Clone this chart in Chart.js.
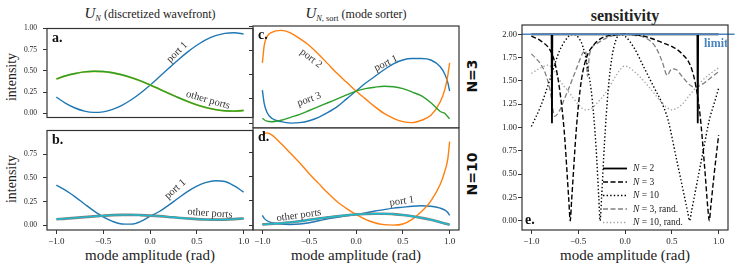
<!DOCTYPE html>
<html>
<head>
<meta charset="utf-8">
<script src="https://cdn.jsdelivr.net/npm/chart.js@4.4.1/dist/chart.umd.min.js"></script>
<style>
  body { margin: 0; background: #fff; width: 735px; height: 268px; overflow: hidden; position: relative;
         font-family: 'Liberation Serif', serif; color: #222; }
  canvas { position: absolute; }
  .t { position: absolute; white-space: nowrap; transform: translate(-50%, -50%); }
  .rot { transform: translate(-50%, -50%) rotate(-90deg); }
  .side { font-family: 'DejaVu Sans', sans-serif; font-weight: bold; font-size: 14px; color: #111; }
  sub { font-size: 70%; vertical-align: -3px; }
</style>
</head>
<body>
<div class="t" style="left:150px; top:14px; font-size:12px;"><i style="font-size:15px">U</i><sub><i>N</i></sub> (discretized wavefront)</div>
<div class="t" style="left:356px; top:14px; font-size:12px;"><i style="font-size:15px">U</i><sub><i>N</i>, sort</sub> (mode sorter)</div>
<div class="t" style="left:625px; top:16px; font-size:16px; font-weight:bold;">sensitivity</div>
<div class="t rot" style="left:12px; top:77px; font-size:14px;">intensity</div>
<div class="t rot" style="left:12px; top:179px; font-size:14px;">intensity</div>
<div class="t" style="left:150px; top:255px; font-size:15px;">mode amplitude (rad)</div>
<div class="t" style="left:356px; top:255px; font-size:15px;">mode amplitude (rad)</div>
<div class="t" style="left:625px; top:255px; font-size:15px;">mode amplitude (rad)</div>
<div class="t rot side" style="left:472px; top:76px;">N=3</div>
<div class="t rot side" style="left:472px; top:174px;">N=10</div>

<canvas id="pa"></canvas>
<canvas id="pb"></canvas>
<canvas id="pc"></canvas>
<canvas id="pd"></canvas>
<canvas id="pe"></canvas>

<script>
// --- Data ---
const xTicks = [-1, -0.5, 0, 0.5, 1];
const yTicksTop = [0, 0.25, 0.5, 0.75, 1.0];
const yTicksLow = [0, 0.25, 0.5, 0.75];
const yTicksSens = [0, 0.25, 0.5, 0.75, 1.0, 1.25, 1.5, 1.75, 2.0];

// panels a, b: discretized wavefront
const xAB = [-1, -0.9, -0.8, -0.7, -0.6, -0.5, -0.4, -0.3, -0.2, -0.1, 0, 0.1, 0.2, 0.3, 0.4, 0.5, 0.6, 0.7, 0.8, 0.9, 1];
const aPort1 = [0.19, 0.117, 0.062, 0.025, 0.01, 0.017, 0.045, 0.093, 0.159, 0.239, 0.331, 0.43, 0.53, 0.629, 0.721, 0.802, 0.868, 0.915, 0.943, 0.95, 0.934];
const aOther = [0.405, 0.442, 0.469, 0.488, 0.495, 0.492, 0.478, 0.454, 0.421, 0.381, 0.335, 0.285, 0.235, 0.186, 0.14, 0.099, 0.066, 0.043, 0.029, 0.025, 0.033];
const bPort1 = [0.423, 0.368, 0.3, 0.225, 0.152, 0.088, 0.041, 0.014, 0.012, 0.04, 0.095, 0.145, 0.212, 0.285, 0.355, 0.413, 0.453, 0.47, 0.462, 0.415, 0.35];
const bOther = [0.064, 0.07, 0.078, 0.086, 0.094, 0.101, 0.107, 0.11, 0.11, 0.107, 0.102, 0.096, 0.088, 0.079, 0.072, 0.065, 0.061, 0.059, 0.06, 0.065, 0.072];

// panels c, d: mode sorter
const xCD = [-1, -0.98, -0.95, -0.9, -0.8, -0.7, -0.6, -0.5, -0.4, -0.3, -0.2, -0.1, 0, 0.1, 0.2, 0.3, 0.4, 0.5, 0.6, 0.7, 0.8, 0.9, 0.95, 0.98, 1];
const cPort1 = [0.34, 0.2, 0.11, 0.05, 0.015, 0.0, 0.005, 0.025, 0.06, 0.11, 0.17, 0.25, 0.33, 0.41, 0.48, 0.55, 0.61, 0.65, 0.665, 0.665, 0.65, 0.58, 0.5, 0.42, 0.33];
const cPort2 = [0.62, 0.8, 0.89, 0.935, 0.955, 0.93, 0.87, 0.8, 0.71, 0.61, 0.51, 0.42, 0.33, 0.25, 0.17, 0.1, 0.05, 0.015, 0.005, 0.03, 0.08, 0.22, 0.35, 0.49, 0.62];
const cPort3 = [0.05, 0.035, 0.02, 0.015, 0.03, 0.06, 0.09, 0.13, 0.17, 0.21, 0.25, 0.29, 0.33, 0.355, 0.37, 0.38, 0.375, 0.355, 0.32, 0.28, 0.21, 0.12, 0.1, 0.065, 0.045];
const dPort1 = [0.1, 0.07, 0.045, 0.025, 0.01, 0.007, 0.012, 0.025, 0.045, 0.065, 0.08, 0.095, 0.11, 0.125, 0.145, 0.16, 0.175, 0.185, 0.195, 0.2, 0.195, 0.175, 0.155, 0.13, 0.1];
const dPort2 = [0.92, 0.94, 0.95, 0.93, 0.84, 0.74, 0.64, 0.53, 0.43, 0.33, 0.24, 0.17, 0.11, 0.06, 0.025, 0.005, 0.0, 0.012, 0.06, 0.14, 0.25, 0.42, 0.56, 0.68, 0.86];
const dOther = [0.008, 0.008, 0.01, 0.013, 0.02, 0.03, 0.04, 0.055, 0.068, 0.08, 0.092, 0.102, 0.11, 0.115, 0.118, 0.118, 0.113, 0.105, 0.092, 0.075, 0.055, 0.03, 0.018, 0.01, 0.005];

// panel e: sensitivity
const xLimit = [-1.1, 1.17];
const yLimit = [2, 2];
const xN2 = [-1, -0.784, -0.78, -0.776, 0.773, 0.777, 0.781, 1];
const yN2 = [2, 2, 1.045, 2, 2, 1.045, 2, 2];
const xN3 = [-1, -0.9, -0.8, -0.75, -0.7, -0.65, -0.6, -0.585, -0.57, -0.52, -0.48, -0.45, -0.4, -0.34, -0.25, -0.1, 0, 0.1, 0.2, 0.3, 0.4, 0.5, 0.6, 0.7, 0.75, 0.8, 0.85, 0.885, 0.9, 0.915, 0.95, 1.0];
const yN3 = [1.98, 1.93, 1.83, 1.7, 1.42, 0.97, 0.22, 0.0, 0.22, 0.98, 1.4, 1.6, 1.78, 1.88, 1.96, 1.995, 2.0, 1.995, 1.98, 1.95, 1.91, 1.87, 1.8, 1.66, 1.48, 1.15, 0.58, 0.13, 0.0, 0.14, 0.48, 0.92];
const xN10 = [-1, -0.9, -0.8, -0.7, -0.6, -0.55, -0.5, -0.45, -0.4, -0.35, -0.31, -0.28, -0.266, -0.25, -0.22, -0.18, -0.14, -0.1, -0.05, 0, 0.1, 0.2, 0.3, 0.4, 0.46, 0.55, 0.62, 0.67, 0.69, 0.71, 0.76, 0.83, 0.9, 0.95, 1.0];
const yN10 = [1.01, 1.23, 1.52, 1.82, 1.98, 2.0, 1.97, 1.87, 1.65, 1.3, 0.8, 0.25, 0.0, 0.25, 0.82, 1.4, 1.75, 1.93, 2.0, 1.98, 1.85, 1.65, 1.45, 1.25, 1.08, 0.66, 0.33, 0.09, 0.0, 0.1, 0.36, 0.72, 1.08, 1.25, 1.42];
const xN3r = [-1, -0.95, -0.9, -0.85, -0.8, -0.75, -0.7, -0.65, -0.6, -0.55, -0.5, -0.45, -0.42, -0.4, -0.38, -0.3, -0.2, -0.1, 0, 0.1, 0.2, 0.3, 0.35, 0.4, 0.45, 0.5, 0.55, 0.6, 0.65, 0.7, 0.75, 0.8, 0.85, 0.9, 0.95, 1.0];
const yN3r = [1.79, 1.74, 1.68, 1.58, 1.4, 1.12, 1.18, 1.3, 1.42, 1.55, 1.68, 1.8, 1.82, 1.55, 1.78, 1.9, 1.96, 1.99, 2.0, 1.99, 1.97, 1.9, 1.82, 1.7, 1.56, 1.63, 1.62, 1.56, 1.5, 1.45, 1.43, 1.45, 1.48, 1.52, 1.56, 1.6];
const xN10r = [-1, -0.9, -0.82, -0.75, -0.7, -0.6, -0.5, -0.42, -0.35, -0.3, -0.2, -0.1, 0, 0.1, 0.2, 0.3, 0.4, 0.5, 0.6, 0.7, 0.8, 0.9, 1.0];
const yN10r = [1.58, 1.64, 1.67, 1.6, 1.51, 1.38, 1.25, 1.19, 1.21, 1.26, 1.38, 1.55, 1.66, 1.6, 1.5, 1.38, 1.26, 1.19, 1.24, 1.36, 1.48, 1.57, 1.64];

// --- Colors ---
const C_BLUE = '#1f77b4', C_ORANGE = '#ff7f0e', C_GREEN = '#2ca02c', C_CYAN = '#17becf', C_GRAY = '#7f7f7f';
const C_LIMIT = '#4a86bf';
const SERIF = "'Liberation Serif', serif";

const pts = (xs, ys) => xs.map((x, i) => ({ x: x, y: ys[i] }));

function line(xs, ys, color, extra) {
  return Object.assign({
    data: pts(xs, ys), borderColor: color, borderWidth: 1.4, pointRadius: 0,
    fill: false, cubicInterpolationMode: 'monotone', tension: 0.4
  }, extra || {});
}

// box around plot area + panel letter + rotated notes
function decorations(letter, letterPos, notes) {
  return {
    id: 'deco',
    afterDraw(chart) {
      const { ctx, chartArea: a, scales } = chart;
      ctx.save();
      ctx.strokeStyle = '#333';
      ctx.lineWidth = 1.2;
      ctx.strokeRect(a.left, a.top, a.right - a.left, a.bottom - a.top);
      ctx.fillStyle = '#111';
      ctx.font = 'bold 14px ' + SERIF;
      ctx.textAlign = 'left';
      ctx.textBaseline = 'alphabetic';
      if (letterPos === 'bottom') ctx.fillText(letter, a.left + 3, a.bottom - 6);
      else ctx.fillText(letter, a.left + 5, a.top + 13);
      ctx.font = '10.5px ' + SERIF;
      ctx.fillStyle = '#333';
      ctx.textAlign = 'center';
      ctx.textBaseline = 'middle';
      (notes || []).forEach(n => {
        ctx.save();
        ctx.translate(scales.x.getPixelForValue(n.x), scales.y.getPixelForValue(n.y));
        ctx.rotate(n.rot * Math.PI / 180);
        ctx.fillText(n.text, 0, 0);
        ctx.restore();
      });
      ctx.restore();
    }
  };
}

function panel(id, box, o) {
  const padL = o.yw, padT = 8, padR = 10, padB = o.xh;
  const cv = document.getElementById(id);
  cv.width = box[2] - box[0] + padL + padR;
  cv.height = box[3] - box[1] + padT + padB;
  cv.style.left = (box[0] - padL) + 'px';
  cv.style.top = (box[1] - padT) + 'px';
  return new Chart(cv, {
    type: 'line',
    data: { datasets: o.datasets },
    options: {
      responsive: false, animation: false, devicePixelRatio: 1,
      layout: { padding: { top: padT, right: padR, left: 0, bottom: 0 } },
      scales: {
        x: {
          type: 'linear', min: -1.1, max: 1.1, display: o.xh > 0,
          afterBuildTicks: s => { s.ticks = xTicks.map(v => ({ value: v })); },
          afterFit: s => { s.height = padB; },
          grid: { drawOnChartArea: false, tickLength: 4, color: '#333' },
          border: { display: false },
          ticks: { font: { family: SERIF, size: 9 }, color: '#222', padding: 2, maxRotation: 0,
                   callback: v => (v < 0 ? '\u2212' : '') + Math.abs(v).toFixed(1) }
        },
        y: {
          type: 'linear', min: o.ymin, max: o.ymax,
          afterBuildTicks: s => { s.ticks = o.yticks.map(v => ({ value: v })); },
          afterFit: s => { s.width = padL; },
          grid: { drawOnChartArea: false, tickLength: 4, color: '#333' },
          border: { display: false },
          ticks: { display: o.ylabels, font: { family: SERIF, size: o.yfont || 8 }, color: '#222', padding: o.ypad,
                   callback: v => v.toFixed(2) }
        }
      },
      plugins: { legend: { display: false }, tooltip: { enabled: false } }
    },
    plugins: [decorations(o.letter, o.letterPos, o.notes)].concat(o.extra || [])
  });
}

// --- a ---
panel('pa', [47, 25.7, 253, 128], {
  yw: 30, xh: 0, ymin: -0.05, ymax: 1.0, yticks: yTicksTop, ylabels: true, ypad: 6, yfont: 7.5, letter: 'a.',
  datasets: [
    line(xAB, aOther, C_GREEN),
    line(xAB, aOther, '#bcbd22', { borderWidth: 1.8 }),
    line(xAB, aPort1, C_BLUE)
  ],
  notes: [{ text: 'port 1', x: 0.29, y: 0.72, rot: -45 }, { text: 'other ports', x: 0.62, y: 0.155, rot: 16 }]
});

// --- b ---
panel('pb', [47, 128, 253, 230], {
  yw: 30, xh: 20, ymin: -0.05, ymax: 1.0, yticks: yTicksLow, ylabels: true, ypad: 6, yfont: 7.5, letter: 'b.',
  datasets: [
    line(xAB, bOther, C_CYAN),
    line(xAB, bOther, C_GRAY, { borderWidth: 2.6 }),
    line(xAB, bPort1, C_BLUE)
  ],
  notes: [{ text: 'port 1', x: 0.27, y: 0.38, rot: -42 }, { text: 'other ports', x: 0.64, y: 0.125, rot: 4 }]
});

// --- c ---
panel('pc', [253, 25.7, 459, 128], {
  yw: 12, xh: 0, ymin: -0.05, ymax: 1.0, yticks: yTicksTop, ylabels: false, ypad: 0, letter: 'c.',
  datasets: [
    line(xCD, cPort3, C_GREEN),
    line(xCD, cPort2, C_ORANGE),
    line(xCD, cPort1, C_BLUE)
  ],
  notes: [{ text: 'port 2', x: -0.48, y: 0.665, rot: 38 }, { text: 'port 1', x: 0.32, y: 0.615, rot: -25 },
          { text: 'port 3', x: -0.5, y: 0.245, rot: -20 }]
});

// --- d ---
panel('pd', [253, 128, 459, 230], {
  yw: 12, xh: 20, ymin: -0.05, ymax: 1.0, yticks: yTicksLow, ylabels: false, ypad: 0, letter: 'd.',
  datasets: [
    line(xCD, dOther, C_CYAN),
    line(xCD, dOther, C_GRAY, { borderWidth: 2.6 }),
    line(xCD, dPort2, C_ORANGE),
    line(xCD, dPort1, C_BLUE)
  ],
  notes: [{ text: 'port 1', x: 0.49, y: 0.245, rot: -8 }, { text: 'other ports', x: -0.61, y: 0.1, rot: -8 }]
});

// --- e ---
const sensSets = [
  line(xLimit, yLimit, C_LIMIT, { borderWidth: 1.6, tension: 0, clip: false }),
  line(xN2, yN2, '#000', { borderWidth: 1.8, tension: 0, cubicInterpolationMode: 'default', label: ['N', ' = 2'] }),
  line(xN3, yN3, '#000', { borderWidth: 1.4, borderDash: [5, 2.5], label: ['N', ' = 3'] }),
  line(xN10, yN10, '#000', { borderWidth: 1.4, borderDash: [1.4, 2.2], label: ['N', ' = 10'] }),
  line(xN3r, yN3r, '#808080', { borderWidth: 1.3, borderDash: [5, 2.5], label: ['N', ' = 3, rand.'] }),
  line(xN10r, yN10r, '#a0a0a0', { borderWidth: 1.3, borderDash: [1.3, 2.2], label: ['N', ' = 10, rand.'] })
];

const sensLegend = {
  id: 'sensLegend',
  afterDraw(chart) {
    const { ctx, chartArea: a } = chart;
    ctx.save();
    // limit label
    ctx.fillStyle = C_LIMIT;
    ctx.font = 'bold 12px ' + SERIF;
    ctx.textAlign = 'right';
    ctx.textBaseline = 'alphabetic';
    ctx.fillText('limit', a.right, chart.scales.y.getPixelForValue(2) + 12.5);
    // legend rows
    const x0 = a.left + 81, y0 = a.top + 143.5, dy = 13.5;
    sensSets.slice(1).forEach((ds, i) => {
      const y = y0 + i * dy;
      ctx.strokeStyle = ds.borderColor;
      ctx.lineWidth = ds.borderWidth;
      ctx.setLineDash(ds.borderDash || []);
      ctx.beginPath(); ctx.moveTo(x0, y); ctx.lineTo(x0 + 24, y); ctx.stroke();
      ctx.setLineDash([]);
      ctx.fillStyle = '#222';
      ctx.textAlign = 'left';
      ctx.textBaseline = 'middle';
      ctx.font = 'italic 9.5px ' + SERIF;
      ctx.fillText(ds.label[0], x0 + 30, y);
      const w = ctx.measureText(ds.label[0]).width;
      ctx.font = '9.5px ' + SERIF;
      ctx.fillText(ds.label[1], x0 + 30 + w, y);
    });
    ctx.restore();
  }
};

panel('pe', [522, 24.7, 728, 230], {
  yw: 25, xh: 20, ymin: -0.1, ymax: 2.1, yticks: yTicksSens, ylabels: true, ypad: 1, yfont: 8.5, letter: 'e.', letterPos: 'bottom',
  datasets: sensSets, extra: [sensLegend]
});
</script>
</body>
</html>
